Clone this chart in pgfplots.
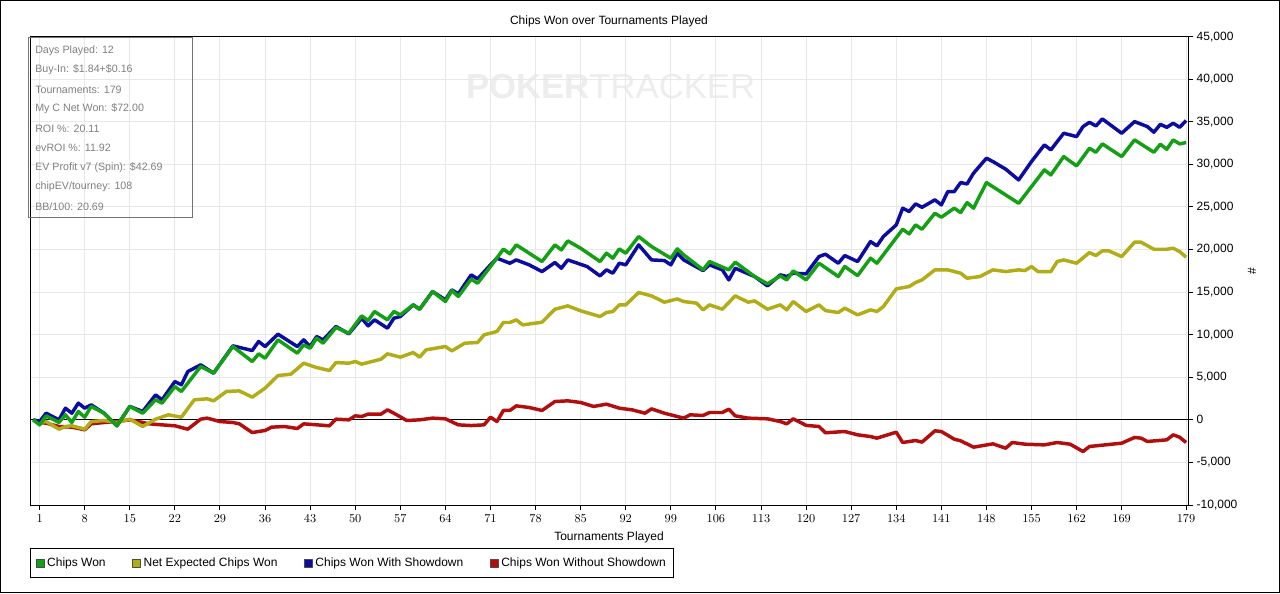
\documentclass[border=0pt]{standalone}
\usepackage{pgfplots}
\pgfplotsset{compat=1.18}
\usepackage{fontspec}
\setmainfont{Liberation Sans}
\definecolor{cwon}{RGB}{20,160,20}
\definecolor{cexp}{RGB}{178,172,22}
\definecolor{cwsd}{RGB}{12,12,160}
\definecolor{cnsd}{RGB}{178,14,14}

\pgfplotstableread{
t v
0 0
1 -600
2 470
4 -310
5 590
6 -310
7 980
8 310
9 1570
11 780
13 -700
15 1570
17 780
19 2350
20 1960
22 3910
23 3330
26 6260
28 5480
31 8610
34 6850
35 7750
36 7240
38 9390
41 7830
42 8800
43 8410
44 9590
45 9000
47 10840
49 10170
51 12210
52 11660
53 12720
55 11740
56 12720
57 12330
59 13500
60 12990
62 15070
64 13890
65 15180
66 14480
68 16510
69 16040
71 18000
73 20040
74 19490
75 20540
77 19570
79 18590
81 20540
82 19950
83 21010
85 20150
88 18590
89 19570
90 18980
91 20070
92 19570
94 21520
96 20350
99 18980
100 20070
101 19370
104 17610
105 18590
108 17610
109 18510
112 16830
114 15970
116 16900
117 16430
118 17490
120 16430
122 18390
125 16830
126 18000
128 16940
130 18980
131 18390
135 22380
136 21830
137 22890
138 22380
140 24260
141 23790
143 24850
144 24340
145 25510
146 24850
148 27860
153 25430
155 27390
157 29350
158 28760
160 30910
162 29820
164 31890
165 31420
166 32400
169 30910
171 32870
174 31420
175 32360
176 31770
177 32870
178 32400
179 32560
}\chipswon

\pgfplotstableread{
t v
0 0
1 -200
2 780
4 0
5 1370
6 780
7 1960
8 1370
9 1760
11 780
13 -700
15 1570
17 980
19 2930
20 2350
22 4500
23 4110
24 5670
26 6460
28 5480
31 8690
34 8140
35 9200
36 8610
38 10060
41 8610
42 9390
43 8610
44 9780
45 9390
47 10960
49 10100
51 11930
52 11030
53 11740
55 10760
56 11930
57 12130
59 13500
60 12990
62 15070
64 14090
65 15260
66 14790
68 17020
69 16550
71 18200
72 18980
74 18390
75 18780
77 18200
79 17410
81 18470
82 17800
83 18780
86 18000
88 16900
89 17610
90 17220
91 18390
92 18200
94 20540
96 18780
98 18700
99 18200
100 19570
101 18780
104 17530
105 18200
107 17610
108 16430
109 17800
112 16830
114 15730
116 17020
117 16830
118 17220
120 17140
122 19170
123 19450
125 18390
126 19290
128 18590
130 20930
131 20430
132 21520
134 22890
135 24850
136 24460
137 25360
138 24960
140 25830
141 25240
142 26800
143 26800
144 27860
145 27700
146 28960
148 30720
149 30330
151 29430
153 28170
155 30330
157 32280
158 31700
160 33650
162 33260
163 34430
164 34940
165 34510
166 35330
169 33650
171 35020
173 34430
174 33770
175 34700
176 34350
177 34830
178 34350
179 35140
}\withsd

\pgfplotstableread{
t v
0 0
1 -310
2 -200
4 -1100
5 -780
6 -700
8 -1100
9 -200
11 -80
13 -310
15 80
17 -780
19 80
21 590
23 310
25 2350
27 2470
28 2230
30 3330
32 3400
34 2660
36 3720
38 5200
40 5360
42 6650
44 6140
46 5790
47 6730
49 6650
50 6850
51 6540
54 7120
55 7750
57 7360
59 7900
60 7360
61 8220
64 8610
65 8100
67 9000
69 9080
70 9980
72 10370
73 11430
74 11430
75 11740
76 11150
79 11460
81 12990
83 13380
85 12800
88 12130
89 12600
90 12720
91 13500
92 13500
94 14950
96 14560
98 13810
100 14200
101 13890
103 13700
104 12910
105 13500
107 12990
109 14560
111 13810
112 13970
114 12990
116 13500
117 12910
118 13890
120 12720
122 13500
123 12830
125 12600
126 13110
128 12330
130 12910
131 12720
132 13300
134 15380
136 15650
137 16120
138 16430
140 17610
142 17610
144 17220
145 16630
147 16830
149 17610
151 17410
153 17610
154 17530
155 18000
156 17410
158 17410
159 18590
160 18780
162 18390
164 19640
165 19290
166 19840
167 19840
169 19170
171 20860
172 20860
174 20030
176 20030
177 20150
178 19760
179 19100
}\expected

\pgfplotstableread{
t v
0 0
1 -310
2 -390
4 -780
6 -860
8 -1170
9 -470
11 -310
13 -200
15 0
18 -470
20 -590
22 -700
24 -1100
26 80
27 200
29 -200
31 -310
32 -470
34 -1490
36 -1250
37 -860
39 -780
41 -1020
42 -470
46 -700
47 80
49 0
50 470
51 390
52 670
54 670
55 1170
56 780
58 -80
60 0
62 200
64 120
66 -590
68 -670
70 -590
71 310
72 -200
73 1100
74 1100
75 1640
77 1450
79 1100
81 2150
83 2230
85 2040
87 1570
89 1840
91 1370
93 1170
95 780
96 1290
98 780
101 200
102 590
104 510
105 860
107 860
108 1250
109 470
111 200
114 120
116 -200
117 -470
118 120
120 -650
122 -780
123 -1520
126 -1370
128 -1760
130 -1960
131 -2150
134 -1450
135 -2660
137 -2430
138 -2620
140 -1290
141 -1370
143 -2270
144 -2460
146 -3210
149 -2820
151 -3330
152 -2660
154 -2860
157 -2940
159 -2660
161 -2860
163 -3720
164 -3130
169 -2740
171 -2070
172 -2150
173 -2540
176 -2350
177 -1760
178 -2040
179 -2660
}\withoutsd

\begin{document}
\begin{tikzpicture}[x=1pt,y=1pt,font=\fontsize{9}{10.5}\selectfont]
\path[use as bounding box] (0,0) rectangle (960,444.75);
\fill[white] (0,0) rectangle (960,444.75);
\node[text=black!7, font=\fontsize{26}{28}\selectfont, inner sep=0pt] at (458,380) {\textbf{POKER}TRACKER};
\begin{axis}[
  at={(22.5pt,66pt)}, anchor=south west,
  scale only axis, width=868.5pt, height=351.3pt,
  xmin=-0.5, xmax=179.3, ymin=-10000, ymax=45000,
  xtick={1,8,...,169,179},
  ytick={-10000,-5000,...,45000},
  scaled y ticks=false,
  yticklabels={{-10,000},{-5,000},{0},{5,000},{10,000},{15,000},{20,000},{25,000},{30,000},{35,000},{40,000},{45,000}},
  xtick pos=bottom, ytick pos=right, yticklabel pos=right,
  tick align=outside, major tick length=4pt,
  tick style={black, line width=0.75pt},
  axis line style={black, line width=0.75pt},
  grid=major, major grid style={draw=black!9, line width=0.75pt},
  tick label style={font=\fontsize{9}{10}\selectfont},
  yticklabel style={xshift=-1pt},
  extra y ticks={0}, extra y tick labels={},
  extra y tick style={grid=major, major grid style={draw=black, line width=0.6pt}, major tick length=0pt},
  title={Chips Won over Tournaments Played},
  title style={font=\fontsize{9}{10}\selectfont, yshift=-2pt},
  xlabel={Tournaments Played},
  xlabel style={font=\fontsize{9}{10}\selectfont, yshift=0pt},
  ylabel={\#},
  ylabel style={font=\fontsize{9}{10}\selectfont, yshift=3pt},
  legend columns=4,
  legend style={at={(0,-0.092)}, anchor=north west, draw=black, line width=0.75pt,
    font=\fontsize{9}{10}\selectfont, inner xsep=4pt, inner ysep=5pt,
    /tikz/every even column/.append style={column sep=18pt}},
  legend image code/.code={\draw[#1] (0pt,-3pt) rectangle (6pt,3pt);},
  every axis plot/.append style={line width=2.6pt, line join=round},
]
\addlegendimage{fill=cwon, draw=black!70, line width=0.5pt}
\addlegendentry{Chips Won}
\addlegendimage{fill=cexp, draw=black!70, line width=0.5pt}
\addlegendentry{Net Expected Chips Won}
\addlegendimage{fill=cwsd, draw=black!70, line width=0.5pt}
\addlegendentry{Chips Won With Showdown}
\addlegendimage{fill=cnsd, draw=black!70, line width=0.5pt}
\addlegendentry{Chips Won Without Showdown}
\addplot[cnsd, forget plot] table[x=t, y=v] {\withoutsd};
\addplot[cexp, forget plot] table[x=t, y=v] {\expected};
\addplot[cwsd, forget plot] table[x=t, y=v] {\withsd};
\addplot[cwon, forget plot] table[x=t, y=v] {\chipswon};
\end{axis}
\draw[black!55, line width=0.75pt] (21,281.25) rectangle (144,416.25);
\begin{scope}[every node/.style={anchor=west, text=black!50, font=\fontsize{8}{9}\selectfont, inner sep=0pt}]
\node at (26.25,407.0) {Days Played: 12};
\node at (26.25,392.4) {Buy-In: \$1.84+\$0.16};
\node at (26.25,377.75) {Tournaments: 179};
\node at (26.25,363.1) {My C Net Won: \$72.00};
\node at (26.25,348.5) {ROI \%: 20.11};
\node at (26.25,333.9) {evROI \%: 11.92};
\node at (26.25,319.25) {EV Profit v7 (Spin): \$42.69};
\node at (26.25,304.6) {chipEV/tourney: 108};
\node at (26.25,290.0) {BB/100: 20.69};
\end{scope}
\draw[black, line width=0.75pt] (0.375,0.375) rectangle (959.625,444.375);
\end{tikzpicture}
\end{document}
